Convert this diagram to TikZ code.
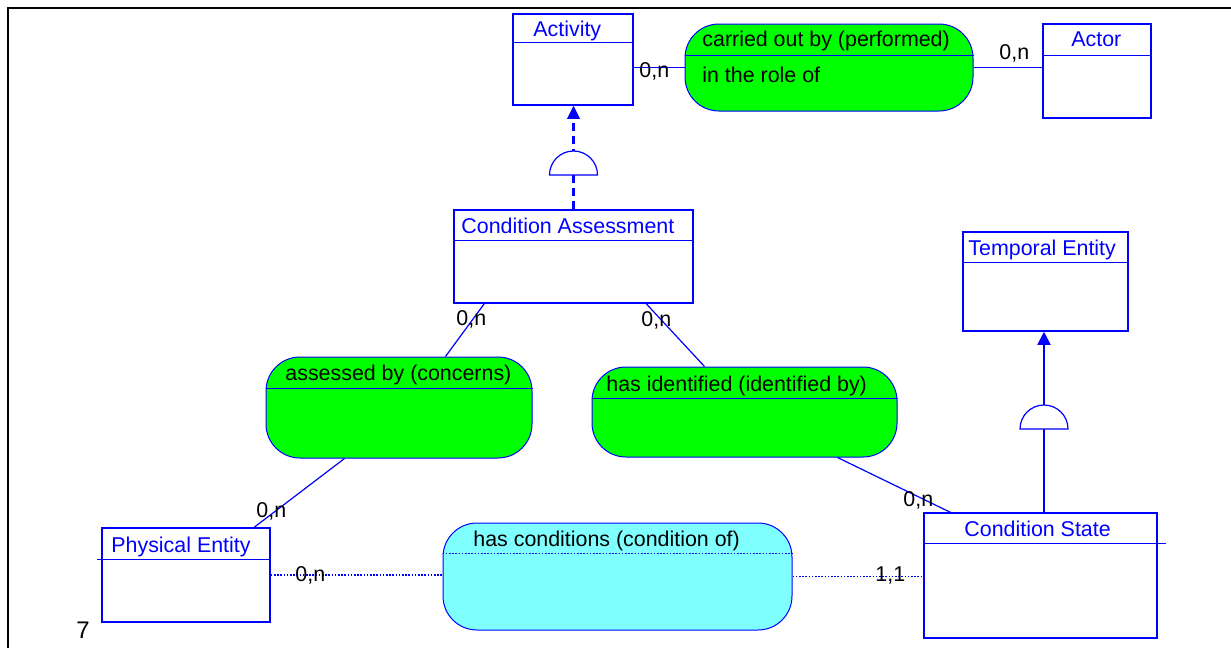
\documentclass[tikz,border=0pt]{standalone}
\usepackage{fontspec}
\setmainfont{Liberation Sans}
\usetikzlibrary{calc,fit,arrows.meta}
\definecolor{erblue}{RGB}{0,0,255}
\definecolor{relgreen}{RGB}{0,255,0}
\definecolor{relcyan}{RGB}{128,255,255}

\begin{document}
\begin{tikzpicture}[x=0.5pt,y=-0.5pt,
  font=\fontsize{10.7}{12.8}\selectfont,
  entity/.style={draw=erblue, line width=0.75pt, fill=white, inner sep=0pt},
  relation/.style={draw=erblue, line width=0.5pt, rounded corners=17pt, inner sep=0pt},
  ename/.style={text=erblue, anchor=base west, inner sep=0pt},
  rname/.style={text=black, anchor=base west, inner sep=0pt},
  card/.style={text=black, anchor=base west, inner sep=0pt},
  link/.style={draw=erblue, line width=0.6pt},
  optlink/.style={draw=erblue, line width=0.6pt, dash pattern=on 0.8pt off 0.8pt},
  isa/.style={draw=erblue, line width=0.9pt, -{Triangle[length=6.5pt,width=6.5pt]}},
  isadash/.style={draw=erblue, line width=1.1pt, dash pattern=on 4pt off 2.5pt},
  halfcirc/.style={draw=erblue, line width=0.6pt, fill=white},
  sheet/.style={draw=black, line width=1.3pt}
]
\useasboundingbox (0,0) rectangle (1231,648);

% sheet edge
\draw[sheet] (1231,8) -- (8,8) -- (8,648);

% entity boxes
\node[entity, fit={(513,14) (633,105)}] (act) {};
\node[entity, fit={(1043,24) (1151,118)}] (actor) {};
\node[entity, fit={(454,210) (693,303)}] (ca) {};
\node[entity, fit={(963,232) (1128,331)}] (te) {};
\node[entity, fit={(924,513) (1157,638)}] (cs) {};
\node[entity, fit={(102,528) (270,622)}] (pe) {};

% relationship boxes
\node[relation, fill=relgreen, fit={(685,24) (973,111)}] (carr) {};
\node[relation, fill=relgreen, fit={(266,357) (532,458)}] (assd) {};
\node[relation, fill=relgreen, fit={(592,367) (897,457)}] (ident) {};
\node[relation, fill=relcyan, fit={(443,523) (792,630)}] (cond) {};

% entity header rules
\draw[erblue, line width=0.75pt] ($(act.north west)+(0,29)$) -- ($(act.north east)+(0,29)$);
\draw[erblue, line width=0.75pt] ($(actor.north west)+(0,32)$) -- ($(actor.north east)+(0,32)$);
\draw[erblue, line width=0.75pt] ($(ca.north west)+(0,31)$) -- ($(ca.north east)+(0,31)$);
\draw[erblue, line width=0.75pt] ($(te.north west)+(0,31)$) -- ($(te.north east)+(0,31)$);
\draw[erblue, line width=0.75pt] ($(cs.north west)+(0,31)$) -- ($(cs.north east)+(8,31)$);
\draw[erblue, line width=0.75pt] ($(pe.north west)+(-4,32)$) -- ($(pe.north east)+(0,32)$);

% relationship header rules
\draw[erblue, line width=0.5pt] ($(carr.north west)+(0,32)$) -- ($(carr.north east)+(0,32)$);
\draw[erblue, line width=0.5pt] ($(assd.north west)+(0,32)$) -- ($(assd.north east)+(0,32)$);
\draw[erblue, line width=0.5pt] ($(ident.north west)+(0,32)$) -- ($(ident.north east)+(0,32)$);
\draw[optlink] ($(cond.north west)+(0,31)$) -- ($(cond.north east)+(0,31)$);

% connectors
\draw[link] (act.east |- carr.west) -- (carr.west);
\draw[link] (carr.east) -- (carr.east -| actor.west);
\draw[link] ($(ca.south west)+(31,0)$) -- ($(assd.north west)+(180,0)$);
\draw[link] ($(assd.south west)+(79,0)$) -- ($(pe.north west)+(153,0)$);
\draw[link] ($(ca.south west)+(193,0)$) -- ($(ident.north west)+(113,0)$);
\draw[link] ($(ident.south west)+(246,0)$) -- ($(cs.north west)+(27,0)$);
\draw[optlink] (pe.east) -- (pe.east -| cond.west);
\draw[optlink] (cond.east) -- (cond.east -| cs.west);

% generalisation links
\draw[isadash] (ca.north) -- ($(ca.north |- act.south)+(0,12)$);
\fill[erblue] (ca.north |- act.south) -- ++(-6.5,13) -- ++(13,0) -- cycle;
\draw[halfcirc] (549.5,175) arc[start angle=180, end angle=0, radius=12pt] -- cycle;
\draw[isa] (cs.north -| 1044,0) -- (te.south -| 1044,0);
\draw[halfcirc] (1020,429) arc[start angle=180, end angle=0, radius=12pt] -- cycle;

% entity names
\node[ename] (actT) at (533,36) {Activity};
\node[ename] (actorT) at (1071,46.7) {Actor};
\node[ename] (caT) at (461,233.3) {Condition Assessment};
\node[ename] (teT) at (968,255) {Temporal Entity};
\node[ename] (csT) at (964,536) {Condition State};
\node[ename] (peT) at (111,552) {Physical Entity};

% relationship names
\node[rname] (carrT) at (702,46.7) {carried out by (performed)};
\node[rname] (carrR) at (702,82.7) {in the role of};
\node[rname] (assdT) at (285,380.7) {assessed by (concerns)};
\node[rname] (identT) at (606,391) {has identified (identified by)};
\node[rname] (condT) at (473,546) {has conditions (condition of)};

% cardinalities
\node[card] (c1) at (639,77.5) {0,n};
\node[card] (c2) at (999,59.3) {0,n};
\node[card] (c3) at (456,325) {0,n};
\node[card] (c4) at (641,326) {0,n};
\node[card] (c5) at (256,517.7) {0,n};
\node[card] (c6) at (295,581.7) {0,n};
\node[card] (c7) at (875,581.7) {1,1};
\node[card] (c8) at (903,506) {0,n};

% page number
\node[card, font=\fontsize{12}{14}\selectfont] (pg) at (76,638) {7};
\end{tikzpicture}
\end{document}
